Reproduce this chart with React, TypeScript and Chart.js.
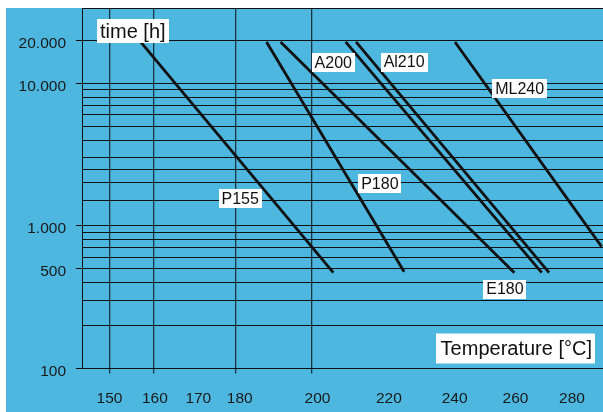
import React, { useEffect, useRef } from 'react';
import { Chart, registerables } from 'chart.js';

Chart.register(...registerables);

// Thermal endurance lines: each series runs from a start point to an end point
const seriesNames = ['P155', 'P180', 'E180', 'A200', 'Al210', 'ML240'];
const startTemps = [156.8, 186.7, 190.3, 207.7, 210.6, 240.1];
const startHours = [19500, 19500, 19500, 19500, 19500, 19500];
const endTemps = [204.3, 224.5, 259.6, 269.1, 271.7, 291.1];
const endHours = [470, 477, 470, 470, 470, 715];
// where each series name tag sits
const labelTemps = [180.1, 217.4, 256.4, 204.3, 224.5, 261.4];
const labelHours = [1561, 1973, 361, 13900, 14100, 9230];

// axis ticks
const xLabelTemps = [150, 160, 170, 180, 200, 220, 240, 260, 280];
const xGridTemps = [150, 159.7, 179, 198.4];
const yGridHours = [100, 200, 300, 400, 500, 600, 700, 800, 900, 1000, 1500, 2000, 2500, 3000, 4000, 5000, 6000, 7000, 8000, 9000, 10000, 20000];
const yLabelHours = [100, 500, 1000, 10000, 20000];
const yLabelTexts = ['100', '500', '1.000', '10.000', '20.000'];

const T_MIN = 144.17;
const T_MAX = 291.63;
const H_MIN = 100;
const H_MAX = 33740;

const xTitle = 'Temperature [°C]';
const yTitle = 'time [h]';

// Arrhenius axis: linear in -1/T (absolute)
const toAxis = (T: number) => -1e6 / (T + 273.15);

const FONT = '"Liberation Sans", Arial, Helvetica, sans-serif';
const BG = '#4db7e0';
const INK = '#111111';

export default function App() {
  const ref = useRef<HTMLCanvasElement | null>(null);

  useEffect(() => {
    const canvas = ref.current;
    if (!canvas) return;

    const datasets = seriesNames.map((name, i) => ({
      label: name,
      data: [
        { x: toAxis(startTemps[i]), y: startHours[i] },
        { x: toAxis(endTemps[i]), y: endHours[i] },
      ],
      borderColor: INK,
      borderWidth: 2.8,
      pointRadius: 0,
      fill: false,
      tension: 0,
    }));

    const annotate = {
      id: 'annotate',
      afterDatasetsDraw(chart: any) {
        const ctx = chart.ctx;
        const xs = chart.scales.x;
        const ys = chart.scales.y;
        const area = chart.chartArea;
        ctx.save();
        ctx.textBaseline = 'middle';
        // series tags
        ctx.font = `16px ${FONT}`;
        seriesNames.forEach((name, i) => {
          const px = xs.getPixelForValue(toAxis(labelTemps[i]));
          const py = ys.getPixelForValue(labelHours[i]);
          const w = ctx.measureText(name).width + 6;
          const h = 19;
          ctx.fillStyle = '#ffffff';
          ctx.fillRect(Math.round(px - w / 2), Math.round(py - h / 2), Math.round(w), h);
          ctx.fillStyle = INK;
          ctx.textAlign = 'center';
          ctx.fillText(name, px, py + 1);
        });
        // y title box
        ctx.font = `20px ${FONT}`;
        {
          const w = ctx.measureText(yTitle).width + 6;
          const left = area.left + 15;
          const top = area.top + 11;
          ctx.fillStyle = '#ffffff';
          ctx.fillRect(left, top, Math.round(w), 24);
          ctx.fillStyle = INK;
          ctx.textAlign = 'left';
          ctx.fillText(yTitle, left + 3, top + 13);
        }
        // x title box
        {
          const w = ctx.measureText(xTitle).width + 8;
          const right = area.right - 8;
          const bottom = area.bottom - 5;
          ctx.fillStyle = '#ffffff';
          ctx.fillRect(Math.round(right - w), bottom - 30, Math.round(w), 30);
          ctx.fillStyle = INK;
          ctx.textAlign = 'left';
          ctx.fillText(xTitle, right - w + 5, bottom - 14);
        }
        ctx.restore();
      },
    };

    const chart = new Chart(canvas, {
      type: 'line',
      data: { datasets },
      options: {
        animation: false,
        responsive: false,
        maintainAspectRatio: false,
        layout: { padding: 0 },
        plugins: {
          legend: { display: false },
          tooltip: { enabled: false },
          title: { display: false },
        },
        scales: {
          x: {
            type: 'linear',
            min: toAxis(T_MIN),
            max: toAxis(T_MAX),
            afterBuildTicks: (scale: any) => {
              const list: any[] = [];
              xGridTemps.forEach((T) => list.push({ value: toAxis(T), grid: true, showLabel: xLabelTemps.includes(T), T }));
              xLabelTemps.forEach((T) => {
                if (!xGridTemps.includes(T)) list.push({ value: toAxis(T), grid: false, showLabel: true, T });
              });
              list.sort((a, b) => a.value - b.value);
              scale.ticks = list;
            },
            afterFit: (scale: any) => {
              scale.height = 43.5;
              scale.paddingLeft = 0;
              scale.paddingRight = 0;
            },
            grid: {
              drawOnChartArea: true,
              drawTicks: true,
              tickLength: 5,
              lineWidth: 1.3,
              color: (c: any) => (c.tick && c.tick.grid ? '#1b3442' : 'rgba(0,0,0,0)'),
              tickColor: (c: any) => (c.tick && c.tick.grid ? '#1b3442' : 'rgba(0,0,0,0)'),
            },
            border: { display: true, color: INK, width: 1 },
            ticks: {
              autoSkip: false,
              maxRotation: 0,
              minRotation: 0,
              padding: 16,
              color: '#1a1a1a',
              font: { family: FONT, size: 15.5 },
              callback: (_v: any, i: number, ticks: any[]) => (ticks[i].showLabel ? String(ticks[i].T) : ''),
            },
          },
          y: {
            type: 'logarithmic',
            min: H_MIN,
            max: H_MAX,
            afterBuildTicks: (scale: any) => {
              const list: any[] = yGridHours.map((h) => {
                const li = yLabelHours.indexOf(h);
                return { value: h, grid: true, showLabel: li >= 0, text: li >= 0 ? yLabelTexts[li] : '' };
              });
              list.push({ value: H_MAX, grid: true, showLabel: false, text: '' });
              scale.ticks = list;
            },
            afterFit: (scale: any) => {
              scale.width = 76;
              scale.paddingTop = 0;
              scale.paddingBottom = 0;
            },
            grid: {
              drawOnChartArea: true,
              drawTicks: true,
              tickLength: 6,
              lineWidth: 1,
              color: INK,
              tickColor: (c: any) => (c.tick && c.tick.showLabel ? INK : 'rgba(0,0,0,0)'),
            },
            border: { display: true, color: INK, width: 1 },
            ticks: {
              autoSkip: false,
              padding: 10,
              labelOffset: 3,
              color: '#1a1a1a',
              font: { family: FONT, size: 15.5 },
              callback: (_v: any, i: number, ticks: any[]) => ticks[i].text,
            },
          },
        },
      },
      plugins: [annotate],
    } as any);

    return () => chart.destroy();
  }, []);

  return (
    <div style={{ position: 'absolute', left: 6, top: 8, width: 597, height: 404, background: BG }}>
      <canvas ref={ref} width={597} height={404} style={{ display: 'block' }} />
    </div>
  );
}
